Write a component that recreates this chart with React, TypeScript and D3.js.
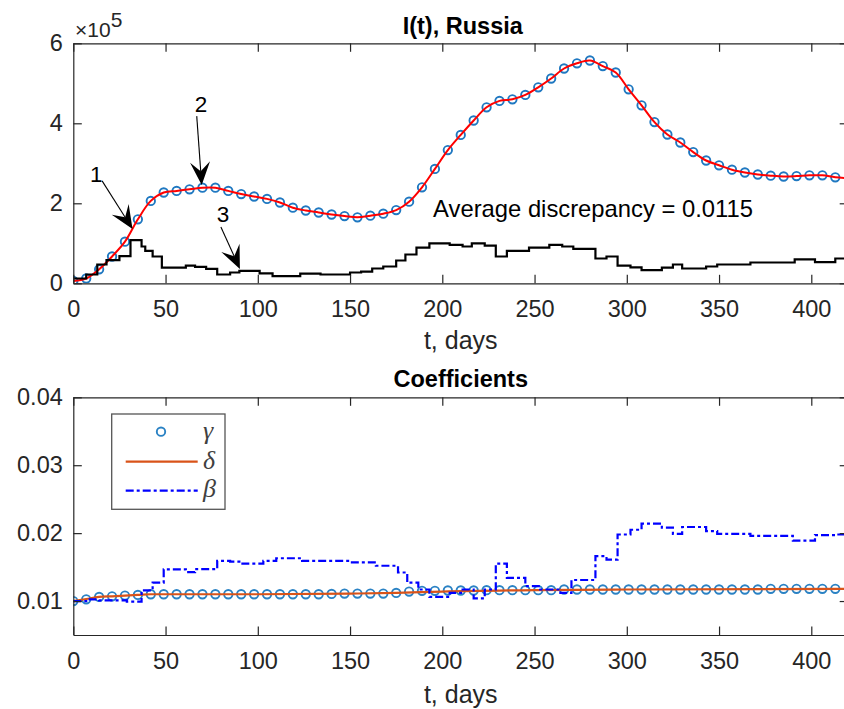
import React, { useEffect, useRef } from "react";
import * as d3 from "d3";

// sampling of the observed points (every 7 days)
const obsDays = d3.range(0, 414, 7);

// I(t) observed, units of 1e5
const obsI = [
  0.06, 0.12, 0.35, 0.67, 1.04, 1.6, 2.06, 2.27, 2.31, 2.35, 2.39, 2.39, 2.31, 2.23, 2.17,
  2.11, 2.02, 1.89, 1.82, 1.77, 1.72, 1.68, 1.65, 1.69, 1.74, 1.83, 2.04, 2.4, 2.86, 3.33,
  3.71, 4.07, 4.4, 4.56, 4.6, 4.71, 4.9, 5.12, 5.37, 5.5, 5.57, 5.43, 5.27, 4.85, 4.45,
  4.03, 3.72, 3.52, 3.28, 3.07, 2.95, 2.84, 2.77, 2.72, 2.69, 2.67, 2.68, 2.7, 2.7, 2.65,
];

// fitted model curve (red)
const fitDays = [...obsDays, 420];
const fitI = [...obsI, 2.63];

// curve 3 (black stairs), units of 1e5
const stepDays = [
  0, 7, 13, 18, 25, 31, 37, 39, 43, 48, 61, 66, 72, 78, 85, 90, 101, 108, 123, 134, 150, 156,
  162, 168, 175, 180, 186, 193, 204, 211, 216, 223, 229, 235, 247, 258, 265, 271, 283, 289,
  295, 302, 308, 319, 325, 330, 343, 349, 367, 391, 402, 413, 420,
];
const stepI = [
  0.12, 0.22, 0.47, 0.58, 0.68, 1.08, 0.92, 0.81, 0.67, 0.39, 0.44, 0.41, 0.36, 0.22, 0.27,
  0.31, 0.25, 0.18, 0.24, 0.22, 0.27, 0.29, 0.37, 0.42, 0.57, 0.72, 0.89, 1.0, 0.96, 0.92,
  1.0, 0.94, 0.67, 0.81, 0.89, 0.96, 0.92, 0.86, 0.62, 0.67, 0.44, 0.4, 0.33, 0.39, 0.47,
  0.37, 0.42, 0.47, 0.52, 0.6, 0.53, 0.62, 0.62,
];

// coefficients
const gammaVals = [
  0.01, 0.01025, 0.0106, 0.0107, 0.0108, 0.0109, 0.011, 0.011, 0.011, 0.011, 0.011, 0.011,
  0.011, 0.011, 0.011, 0.011, 0.011, 0.011, 0.011, 0.011, 0.01105, 0.0111, 0.0111, 0.0111,
  0.0111, 0.0112, 0.0114, 0.0115, 0.0115, 0.01155, 0.01155, 0.01155, 0.0116, 0.0116, 0.0116,
  0.0116, 0.0116, 0.0116, 0.0117, 0.0117, 0.0117, 0.0117, 0.0117, 0.0117, 0.0117, 0.0117,
  0.0117, 0.0117, 0.0117, 0.0117, 0.0117, 0.0117, 0.0117, 0.0117, 0.0118, 0.0118, 0.0118,
  0.0118, 0.0118, 0.0118,
];
const deltaDays = [0, 7, 14, 21, 28, 35, 42, 100, 150, 175, 200, 250, 300, 420];
const deltaVals = [
  0.01, 0.0103, 0.0106, 0.0107, 0.0108, 0.0109, 0.011, 0.011, 0.0111, 0.0112, 0.0114, 0.0116,
  0.0117, 0.0118,
];
const betaDays = [
  0, 7, 14, 29, 37, 43, 49, 61, 66, 78, 85, 90, 103, 110, 124, 150, 164, 176, 181, 187, 193,
  204, 211, 217, 223, 229, 235, 245, 253, 264, 270, 283, 289, 295, 302, 308, 319, 325, 330,
  343, 349, 367, 390, 402, 413, 420,
];
const betaVals = [
  0.01, 0.01025, 0.0101, 0.0099, 0.01157, 0.0127, 0.01467, 0.01427, 0.0147, 0.0159, 0.0158,
  0.0155, 0.0159, 0.0163, 0.0159, 0.0157, 0.0152, 0.0142, 0.0127, 0.0117, 0.0106, 0.0112,
  0.0117, 0.0104, 0.0117, 0.0155, 0.0134, 0.0122, 0.0117, 0.0112, 0.0131, 0.0166, 0.0161,
  0.0198, 0.0205, 0.0214, 0.0208, 0.0199, 0.0209, 0.0203, 0.0199, 0.0196, 0.0189, 0.0197,
  0.0198, 0.0198,
];

const xTicks = [0, 50, 100, 150, 200, 250, 300, 350, 400];
const iTicks = [0, 2, 4, 6];
const coefTicks = [0.01, 0.02, 0.03, 0.04];

// annotation arrows, data coordinates (t, I/1e5)
const arrows = [
  { label: "1", text: [12.4, 2.53], tail: [15.6, 2.56], tip: [32.1, 1.36] },
  { label: "2", text: [69.2, 4.28], tail: [66.9, 4.18], tip: [69.6, 2.46] },
  { label: "3", text: [81.1, 1.53], tail: [80.0, 1.41], tip: [90.3, 0.36] },
];

const App = () => {
  const svgRef = useRef<SVGSVGElement>(null);

  useEffect(() => {
    const svg = d3.select(svgRef.current);
    svg.selectAll("*").remove();

    const font = '"Liberation Sans", Arial, Helvetica, sans-serif';
    const axisColor = "#262626";
    const tick = 8.5;
    const left = 73.3;
    const right = 848.2;

    const x = d3.scaleLinear().domain([0, 420]).range([left, right]);
    const yI = d3.scaleLinear().domain([0, 6]).range([283.3, 43.3]);
    const yC = d3.scaleLinear().domain([0.005, 0.04]).range([635, 397.3]);

    const drawFrame = (yScale, yTicks, yFormat, clipId) => {
      const [yBottom, yTop] = yScale.range();
      const g = svg.append("g");
      g.append("g")
        .attr("transform", `translate(0,${yBottom})`)
        .call(d3.axisBottom(x).tickValues(xTicks).tickSizeInner(-tick).tickSizeOuter(0).tickPadding(17.5));
      g.append("g")
        .attr("transform", `translate(0,${yTop})`)
        .call(d3.axisTop(x).tickValues(xTicks).tickSizeInner(-tick).tickSizeOuter(0).tickFormat(() => ""));
      g.append("g")
        .attr("transform", `translate(${left},0)`)
        .call(d3.axisLeft(yScale).tickValues(yTicks).tickSizeInner(-tick).tickSizeOuter(0).tickPadding(10.5).tickFormat(yFormat));
      g.append("g")
        .attr("transform", `translate(${right},0)`)
        .call(d3.axisRight(yScale).tickValues(yTicks).tickSizeInner(-tick).tickSizeOuter(0).tickFormat(() => ""));
      g.selectAll(".domain").attr("stroke", axisColor).attr("stroke-width", 1.2);
      g.selectAll(".tick line").attr("stroke", axisColor).attr("stroke-width", 1.2);
      g.selectAll(".tick text")
        .attr("fill", axisColor)
        .style("font-family", font)
        .style("font-size", "23.5px");

      svg.append("clipPath")
        .attr("id", clipId)
        .append("rect")
        .attr("x", left)
        .attr("y", yTop)
        .attr("width", right - left)
        .attr("height", yBottom - yTop);
    };

    const addText = (tx, ty, str, size, opts = {}) =>
      svg.append("text")
        .attr("x", tx)
        .attr("y", ty)
        .attr("text-anchor", opts.anchor || "middle")
        .attr("fill", opts.color || axisColor)
        .style("font-family", opts.family || font)
        .style("font-size", `${size}px`)
        .style("font-weight", opts.weight || "normal")
        .style("font-style", opts.style || "normal")
        .text(str);

    // ---------- top panel: I(t) ----------
    const topData = svg.append("g").attr("clip-path", "url(#clipTop)");

    topData.selectAll("circle")
      .data(obsDays.map((d, i) => [d, obsI[i]]))
      .join("circle")
      .attr("cx", (d) => x(d[0]))
      .attr("cy", (d) => yI(d[1]))
      .attr("r", 4.2)
      .attr("fill", "none")
      .attr("stroke", "#1f78c1")
      .attr("stroke-width", 1.9);

    const fitLine = d3.line()
      .x((d) => x(d[0]))
      .y((d) => yI(d[1]))
      .curve(d3.curveCatmullRom.alpha(0.5));
    topData.append("path")
      .attr("d", fitLine(fitDays.map((d, i) => [d, fitI[i]])))
      .attr("fill", "none")
      .attr("stroke", "#ff0000")
      .attr("stroke-width", 2);

    const stairLine = d3.line()
      .x((d) => x(d[0]))
      .y((d) => yI(d[1]))
      .curve(d3.curveStepAfter);
    topData.append("path")
      .attr("d", stairLine(stepDays.map((d, i) => [d, stepI[i]])))
      .attr("fill", "none")
      .attr("stroke", "#000")
      .attr("stroke-width", 2.2);

    drawFrame(yI, iTicks, (d) => `${d}`, "clipTop");

    // arrows
    arrows.forEach((a) => {
      const x1 = x(a.tail[0]), y1 = yI(a.tail[1]);
      const x2 = x(a.tip[0]), y2 = yI(a.tip[1]);
      const ang = Math.atan2(y2 - y1, x2 - x1);
      const ux = Math.cos(ang), uy = Math.sin(ang);
      const px = -uy, py = ux;
      const L = 23, W = 20, notch = 0.6 * L;
      const head = [
        [x2, y2],
        [x2 - L * ux + (W / 2) * px, y2 - L * uy + (W / 2) * py],
        [x2 - notch * ux, y2 - notch * uy],
        [x2 - L * ux - (W / 2) * px, y2 - L * uy - (W / 2) * py],
      ];
      svg.append("line")
        .attr("x1", x1).attr("y1", y1)
        .attr("x2", x2 - notch * ux).attr("y2", y2 - notch * uy)
        .attr("stroke", "#000")
        .attr("stroke-width", 1.1);
      svg.append("polygon")
        .attr("points", head.map((p) => p.join(",")).join(" "))
        .attr("fill", "#000");
      addText(x(a.text[0]), yI(a.text[1]), a.label, 22.5, { color: "#000" });
    });

    addText(x(195), yI(1.66), "Average discrepancy = 0.0115", 23.8, { anchor: "start", color: "#000" });
    addText((left + right) / 2 + 2, 34, "I(t), Russia", 23.5, { weight: "bold", color: "#000" });
    addText((left + right) / 2, 349, "t, days", 25);

    const expo = addText(75, 37, "×10", 21, { anchor: "start" });
    expo.append("tspan").attr("dy", -10).text("5");

    // ---------- bottom panel: coefficients ----------
    const botData = svg.append("g").attr("clip-path", "url(#clipBot)");

    botData.selectAll("circle")
      .data(obsDays.map((d, i) => [d, gammaVals[i]]))
      .join("circle")
      .attr("cx", (d) => x(d[0]))
      .attr("cy", (d) => yC(d[1]))
      .attr("r", 4.2)
      .attr("fill", "none")
      .attr("stroke", "#2a82c4")
      .attr("stroke-width", 1.9);

    const deltaLine = d3.line()
      .x((d) => x(d[0]))
      .y((d) => yC(d[1]))
      .curve(d3.curveMonotoneX);
    botData.append("path")
      .attr("d", deltaLine(deltaDays.map((d, i) => [d, deltaVals[i]])))
      .attr("fill", "none")
      .attr("stroke", "#d95319")
      .attr("stroke-width", 2.2);

    const betaLine = d3.line()
      .x((d) => x(d[0]))
      .y((d) => yC(d[1]))
      .curve(d3.curveStepAfter);
    botData.append("path")
      .attr("d", betaLine(betaDays.map((d, i) => [d, betaVals[i]])))
      .attr("fill", "none")
      .attr("stroke", "#0000ff")
      .attr("stroke-width", 2.2)
      .attr("stroke-dasharray", "8 3 3 3");

    drawFrame(yC, coefTicks, d3.format(".2f"), "clipBot");

    addText((left + right) / 2, 387, "Coefficients", 23.5, { weight: "bold", color: "#000" });
    addText((left + right) / 2, 703, "t, days", 25);

    // legend
    const lg = svg.append("g");
    lg.append("rect")
      .attr("x", 111.7).attr("y", 414)
      .attr("width", 113.3).attr("height", 95.3)
      .attr("fill", "#fff")
      .attr("stroke", "#555")
      .attr("stroke-width", 1.3);
    lg.append("circle")
      .attr("cx", 161).attr("cy", 431.7).attr("r", 4.2)
      .attr("fill", "none").attr("stroke", "#2a82c4").attr("stroke-width", 1.9);
    lg.append("line")
      .attr("x1", 125.7).attr("x2", 197.7).attr("y1", 461.7).attr("y2", 461.7)
      .attr("stroke", "#d95319").attr("stroke-width", 2.2);
    lg.append("line")
      .attr("x1", 125.7).attr("x2", 197.7).attr("y1", 490.7).attr("y2", 490.7)
      .attr("stroke", "#0000ff").attr("stroke-width", 2.2).attr("stroke-dasharray", "8 3 3 3");
    const serif = '"Liberation Serif", "Times New Roman", serif';
    ["γ", "δ", "β"].forEach((s, i) => {
      addText(203, [438.5, 469, 497][i], s, 26, { anchor: "start", family: serif, style: "italic", color: "#404040" });
    });
  }, []);

  return (
    <svg
      ref={svgRef}
      width={844}
      height={709}
      style={{ position: "absolute", left: 0, top: 0, background: "#fff" }}
    />
  );
};

export default App;
